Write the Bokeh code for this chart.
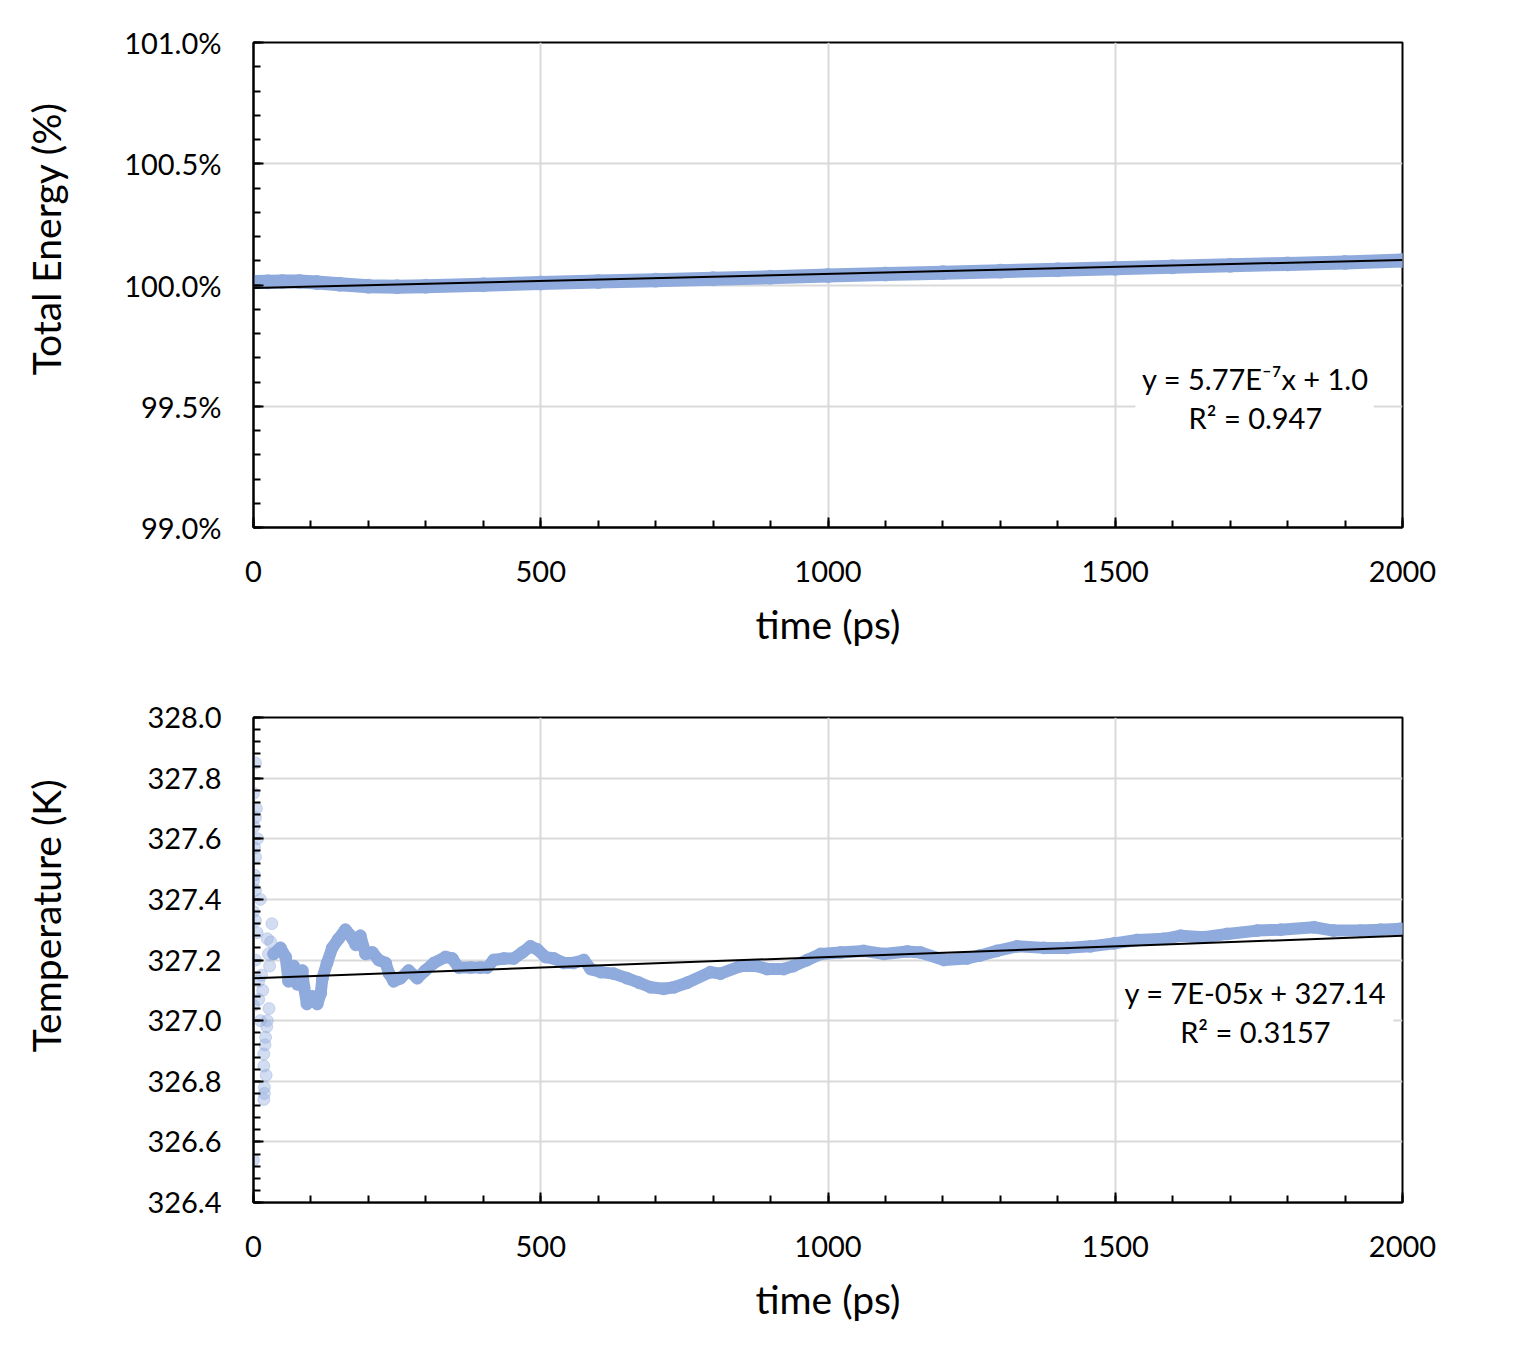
import numpy as np
from bokeh.plotting import figure
from bokeh.layouts import column, row
from bokeh.models import SingleIntervalTicker, NumeralTickFormatter, Range1d
from bokeh.core.properties import value
from bokeh.embed import file_html
from bokeh.resources import INLINE

# ---------------- data ----------------
energy_time = [0, 25, 50, 80, 110, 150, 200, 250, 300, 400, 500, 600, 700, 800, 900,
               1000, 1100, 1200, 1300, 1400, 1500, 1600, 1700, 1800, 1900, 2000]
energy_frac = [1.00012, 1.00013, 1.00014, 1.00014, 1.00010, 1.00003, 0.99995, 0.99993,
               0.99995, 1.00001, 1.00008, 1.00014, 1.00020, 1.00026, 1.00032, 1.00039,
               1.00045, 1.00051, 1.00057, 1.00063, 1.00069, 1.00075, 1.00081, 1.00087,
               1.00093, 1.00101]
energy_slope = 5.77e-7
energy_intercept = 0.99988
energy_eq = "y = 5.77E\u207b\u2077x + 1.0"
energy_r2 = "R\u00b2 = 0.947"

temp_scatter_time = [3.5, 0, 3.5, 1, 2, 3.5, 2, 0, 3.5, 0, 3.5, 6.4, 3.5, 9, 0, 9, 12, 24,
                     21, 18, 18, 19, 18, 0, 27, 32, 30, 20, 22, 19, 23, 16, 14, 26, 28, 24,
                     12, 7, 5]
temp_scatter = [327.85, 327.75, 327.67, 327.64, 327.57, 327.54, 327.48, 327.46, 327.43,
                327.36, 327.33, 327.29, 327.20, 327.13, 327.05, 327.07, 327.0, 327.0,
                326.945, 326.89, 326.85, 326.78, 326.74, 326.54, 327.04, 327.32, 327.26,
                326.92, 326.82, 326.76, 326.98, 327.10, 327.15, 327.22, 327.18, 327.27,
                327.40, 327.60, 327.70]

temp_time = [35, 47, 56, 61, 70, 76, 85, 88, 93, 102,
             111, 117, 120, 128, 137, 148, 160, 169, 178, 186,
             195, 207, 218, 230, 236, 244, 256, 270, 285, 299,
             314, 334, 346, 357, 378, 395, 407, 418, 436, 453,
             468, 482, 494, 508, 523, 540, 557, 575, 587, 604,
             627, 650, 671, 691, 714, 732, 755, 795, 813, 848,
             877, 894, 923, 940, 964, 987, 1022, 1062, 1097, 1138,
             1161, 1202, 1242, 1265, 1294, 1329, 1376, 1416, 1457, 1498,
             1538, 1585, 1614, 1654, 1695, 1747, 1788, 1846, 1880, 1927,
             1962, 1997]
temp = [327.22, 327.24, 327.21, 327.13, 327.18, 327.12, 327.165, 327.11, 327.055, 327.08,
        327.055, 327.09, 327.14, 327.19, 327.24, 327.27, 327.30, 327.28, 327.25, 327.28,
        327.22, 327.225, 327.20, 327.19, 327.155, 327.13, 327.14, 327.165, 327.14, 327.165,
        327.19, 327.21, 327.205, 327.175, 327.175, 327.175, 327.175, 327.20, 327.205, 327.205,
        327.225, 327.245, 327.235, 327.21, 327.205, 327.19, 327.19, 327.20, 327.17, 327.16,
        327.155, 327.14, 327.125, 327.11, 327.105, 327.11, 327.125, 327.16, 327.155, 327.18,
        327.18, 327.17, 327.17, 327.18, 327.20, 327.22, 327.225, 327.23, 327.22, 327.228,
        327.225, 327.20, 327.205, 327.215, 327.23, 327.245, 327.24, 327.24, 327.245, 327.255,
        327.266, 327.27, 327.28, 327.275, 327.286, 327.297, 327.30, 327.308, 327.297, 327.297,
        327.30, 327.303]
temp_slope = 7e-05
temp_intercept = 327.14
temp_eq = "y = 7E-05x + 327.14"
temp_r2 = "R\u00b2 = 0.3157"

X_MAX = 2000
BLUE = "#8FAADC"
GRID = "#D9D9D9"
FONT = "Lato"
TITLE_W = 100            # width of the strip that carries each rotated y title
TOTAL_W = 1490


def style(p, y_interval, y_fmt):
    p.xaxis.ticker = SingleIntervalTicker(interval=500, num_minor_ticks=5)
    p.yaxis.ticker = SingleIntervalTicker(interval=y_interval, num_minor_ticks=5)
    p.yaxis.formatter = NumeralTickFormatter(format=y_fmt)
    for ax in (p.xaxis[0], p.yaxis[0]):
        ax.axis_line_color = "black"
        ax.axis_line_width = 2
        ax.major_tick_line_color = "black"
        ax.major_tick_line_width = 2
        ax.minor_tick_line_color = "black"
        ax.minor_tick_line_width = 2
        ax.major_tick_in = 10
        ax.major_tick_out = 0
        ax.minor_tick_in = 7
        ax.minor_tick_out = 0
        ax.major_label_text_font = FONT
        ax.major_label_text_font_size = "29px"
        ax.major_label_text_color = "black"
        ax.axis_label_text_font = FONT
        ax.axis_label_text_font_size = "39px"
        ax.axis_label_text_font_style = "normal"
        ax.axis_label_text_color = "black"
    p.xaxis.axis_label = "time (ps)"
    p.xaxis.major_label_standoff = 33
    p.yaxis.major_label_standoff = 32
    p.xaxis.axis_label_standoff = 16
    p.xgrid.grid_line_color = GRID
    p.ygrid.grid_line_color = GRID
    p.xgrid.grid_line_width = 2
    p.ygrid.grid_line_width = 2
    p.outline_line_color = "black"
    p.outline_line_width = 2
    p.outline_line_alpha = 1
    p.background_fill_color = "white"
    p.border_fill_color = "white"


def title_strip(height, text, y_from_bottom):
    t = figure(width=TITLE_W, height=height, output_backend="svg", toolbar_location=None,
               x_range=Range1d(0, TITLE_W), y_range=Range1d(0, height),
               x_axis_type=None, y_axis_type=None, min_border=0)
    t.outline_line_color = None
    t.background_fill_color = "white"
    t.border_fill_color = "white"
    t.text(x=[45], y=[y_from_bottom], text=[text], angle=np.pi / 2,
           text_font=value(FONT), text_font_size="39px", text_align="center",
           text_baseline="middle", text_color="black")
    return t


# ---------------- top chart ----------------
p1 = figure(width=TOTAL_W - TITLE_W, height=660, output_backend="svg",
            toolbar_location=None,
            x_range=Range1d(0, X_MAX), y_range=Range1d(0.99, 1.01),
            min_border_left=253 - TITLE_W, min_border_right=88, min_border_top=42,
            min_border_bottom=133)
style(p1, 0.005, "0.0%")

p1.line(energy_time, energy_frac, line_width=14, color=BLUE, line_join="round",
        line_cap="round")
p1.scatter(energy_time, energy_frac, size=14, color=BLUE, alpha=0.8)
ex = np.array([0, X_MAX])
p1.line(ex, energy_intercept + energy_slope * ex, color="black", line_width=2)
p1.quad(left=[1535], right=[1950], bottom=[0.99379], top=[0.99688],
        fill_color="white", line_color=None)
p1.text(x=[1744, 1744], y=[0.996144, 0.99454], text=[energy_eq, energy_r2],
        text_font=value(FONT), text_font_size="29px", text_align="center",
        text_baseline="middle", text_color="black")
t1 = title_strip(660, "Total Energy (%)", 393)

# ---------------- bottom chart ----------------
p2 = figure(width=TOTAL_W - TITLE_W, height=680, output_backend="svg",
            toolbar_location=None,
            x_range=Range1d(0, X_MAX), y_range=Range1d(326.4, 328.0),
            min_border_left=253 - TITLE_W, min_border_right=88, min_border_top=57,
            min_border_bottom=138)
style(p2, 0.2, "0.0")

p2.scatter(temp_scatter_time, temp_scatter, size=12, color=BLUE, alpha=0.4)
p2.line(temp_time, temp, line_width=12, color=BLUE, line_join="round", line_cap="round")
p2.scatter(temp_time, temp, size=12, color=BLUE, alpha=0.8)
p2.line(ex, temp_intercept + temp_slope * ex, color="black", line_width=2)
p2.quad(left=[1506], right=[1984], bottom=[326.90], top=[327.149],
        fill_color="white", line_color=None)
p2.text(x=[1744, 1744], y=[327.0924, 326.964], text=[temp_eq, temp_r2],
        text_font=value(FONT), text_font_size="29px", text_align="center",
        text_baseline="middle", text_color="black")
t2 = title_strip(680, "Temperature (K)", 402)

layout = column(row(t1, p1, spacing=0), row(t2, p2, spacing=0), spacing=0)
open("out.html", "w").write(file_html(layout, INLINE))
